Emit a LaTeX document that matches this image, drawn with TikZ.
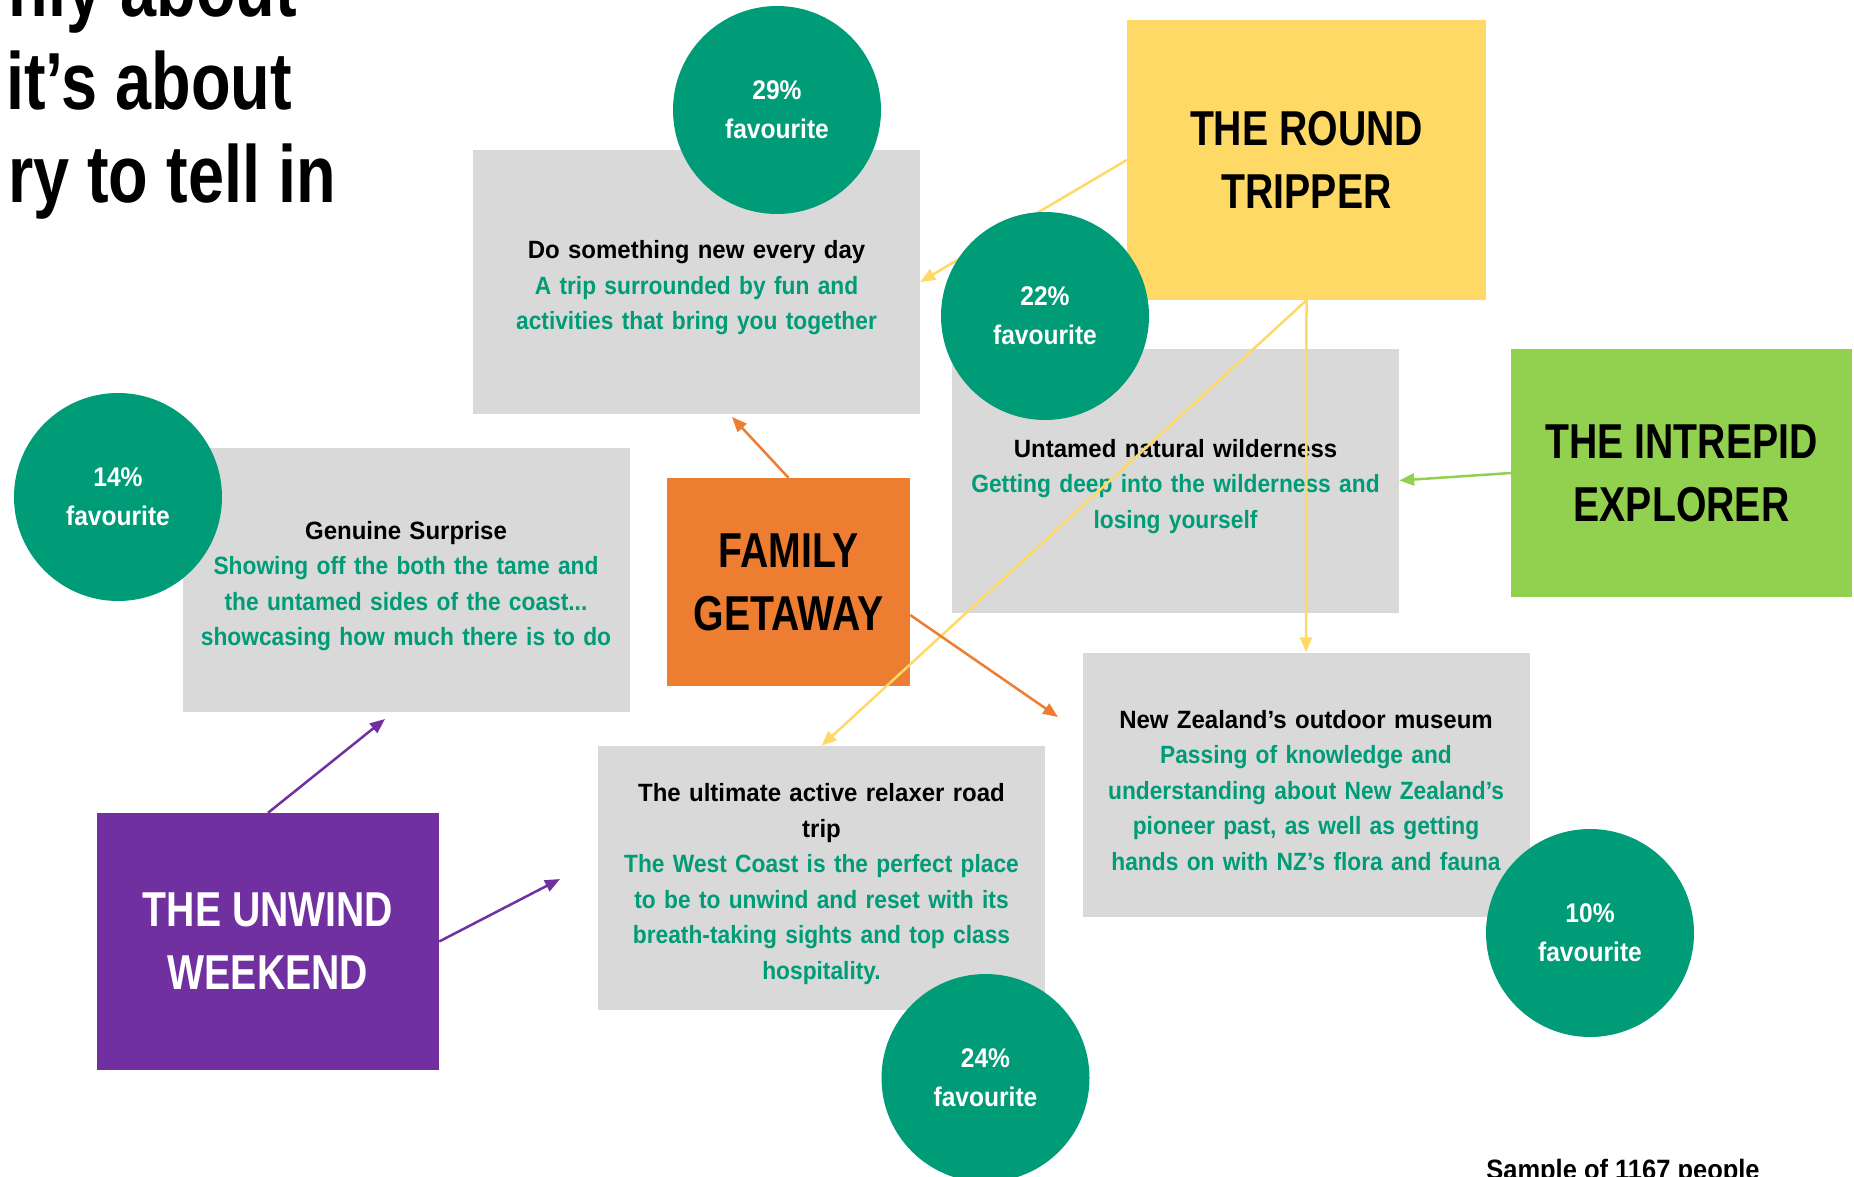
\documentclass[tikz,border=0pt]{standalone}
\usepackage{fontspec}
\setmainfont{Liberation Sans}[FakeStretch=0.91]
\newfontfamily\headfont{Liberation Sans}[FakeStretch=0.96]
\newfontfamily\bigfont{Liberation Sans}[FakeStretch=0.8]
\usetikzlibrary{shapes, arrows.meta}

\definecolor{boxgray}{HTML}{D9D9D9}
\definecolor{pine}{HTML}{009B77}
\definecolor{tripyellow}{HTML}{FFD966}
\definecolor{familyorange}{HTML}{ED7D31}
\definecolor{explorergreen}{HTML}{92D050}
\definecolor{unwindpurple}{HTML}{7030A0}

\begin{document}
\begin{tikzpicture}[x=1pt, y=-1pt]
    \tikzstyle{option} = [rectangle, fill=boxgray, minimum width=447pt, minimum height=264pt, text width=440pt, align=center, inner sep=0pt, font=\bfseries\fontsize{25}{35.5}\selectfont, execute at begin node={\rule{0pt}{30pt}}]
    \tikzstyle{persona} = [rectangle, align=center, inner sep=0pt, font=\bigfont\bfseries\fontsize{49}{63}\selectfont]
    \tikzstyle{score} = [circle, fill=pine, text=white, minimum size=208pt, inner sep=0pt, align=center, font=\bfseries\fontsize{27}{39}\selectfont]
    \tikzstyle{headline} = [anchor=base east, inner sep=0pt, font=\bigfont\bfseries\fontsize{81}{92}\selectfont]
    \tikzstyle{arrow} = [line width=2.5pt, -{Triangle[length=15pt, width=12pt]}]

    \useasboundingbox (0,0) rectangle (1854,1177);
    \clip (0,0) rectangle (1854,1177);
    \fill [white] (0,0) rectangle (1854,1177);

    % Title, cut off at the page edge
    \node (title1) [headline] at (297,17) {nly about};
    \node (title2) [headline] at (292,110) {it’s about};
    \node (title3) [headline] at (336,202) {ry to tell in};

    % Trip ideas
    \node (newday) [option] at (696.5,282) {{\headfont Do something new every day}\\ \color{pine} A trip surrounded by fun and\\ activities that bring you together};
    \node (wilderness) [option] at (1175.5,480.5) {{\headfont Untamed natural wilderness}\\ \color{pine} Getting deep into the wilderness and\\ losing yourself};
    \node (surprise) [option] at (406,580) {{\headfont Genuine Surprise}\\ \color{pine} Showing off the both the tame and\\ the untamed sides of the coast...\\ showcasing how much there is to do};
    \node (museum) [option] at (1306,784.5) {{\headfont New Zealand’s outdoor museum}\\ \color{pine} Passing of knowledge and\\ understanding about New Zealand’s\\ pioneer past, as well as getting\\ hands on with NZ’s flora and fauna};
    \node (roadtrip) [option] at (821.5,878) {{\headfont The ultimate active relaxer road\\ trip}\\ \color{pine} The West Coast is the perfect place\\ to be to unwind and reset with its\\ breath-taking sights and top class\\ hospitality.};

    % Traveller types
    \node (tripper) [persona, fill=tripyellow, minimum width=359pt, minimum height=280pt] at (1306.5,160) {THE ROUND\\ TRIPPER};
    \node (family) [persona, fill=familyorange, minimum width=243pt, minimum height=208pt] at (788.5,582) {FAMILY\\ GETAWAY};
    \node (explorer) [persona, fill=explorergreen, minimum width=341pt, minimum height=248pt] at (1681.5,473) {THE INTREPID\\ EXPLORER};
    \node (unwind) [persona, fill=unwindpurple, text=white, minimum width=342pt, minimum height=257pt] at (268,941.5) {THE UNWIND\\ WEEKEND};

    \coordinate (famtip1) at (732,417);
    \coordinate (famtip2) at (1058,717);
    \coordinate (unwtip1) at (385,719);
    \coordinate (unwtip2) at (560,879);

    % Arrows
    \draw [arrow, tripyellow] (tripper.west) -- (newday.east);
    \draw [arrow, tripyellow] (tripper.south) -- (roadtrip.north);
    \draw [arrow, tripyellow] (tripper.south) -- (museum.north);
    \draw [arrow, explorergreen] (explorer.west) -- (wilderness.east);
    \draw [arrow, familyorange] (family.north) -- (famtip1);
    \draw [arrow, familyorange] ([yshift=-33pt]family.east) -- (famtip2);
    \draw [arrow, unwindpurple] (unwind.north) -- (unwtip1);
    \draw [arrow, unwindpurple] (unwind.east) -- (unwtip2);

    % Scores
    \node (score29) [score] at (777,110) {29\%\\ favourite};
    \node (score22) [score] at (1045,316) {22\%\\ favourite};
    \node (score14) [score] at (118,497) {14\%\\ favourite};
    \node (score10) [score] at (1590,933) {10\%\\ favourite};
    \node (score24) [score] at (985.5,1078) {24\%\\ favourite};

    \node (sample) [anchor=base, inner sep=0pt, font=\bfseries\fontsize{28}{34}\selectfont] at (1623,1179) {Sample of 1167 people};
\end{tikzpicture}
\end{document}
